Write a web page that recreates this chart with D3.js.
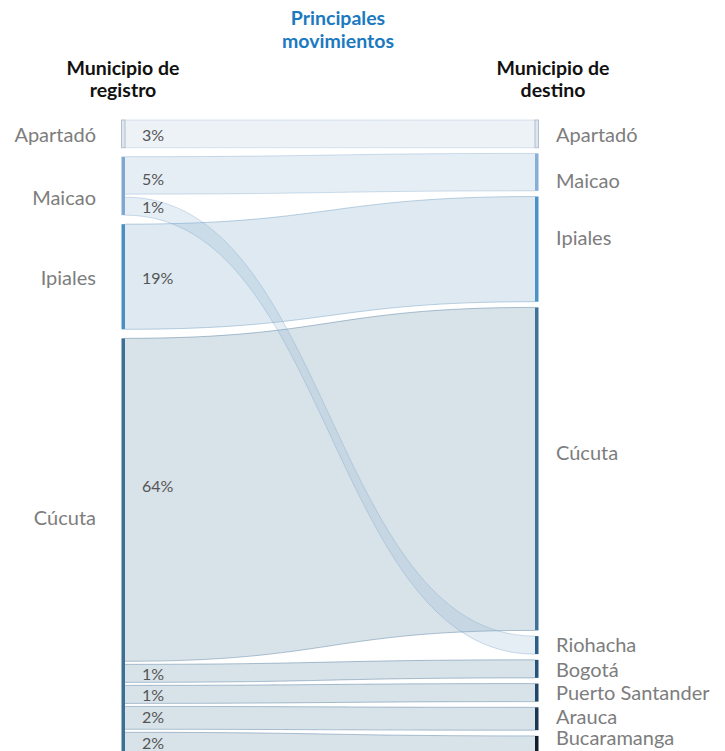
<!DOCTYPE html>
<html><head><meta charset="utf-8">
<script src="https://cdn.jsdelivr.net/npm/d3@7"></script>
<style>
body{margin:0;background:#fff;}
svg{display:block;font-family:Lato,'Open Sans',sans-serif;}
</style>
</head><body>
<svg id="chart" width="725" height="751"></svg>
<script>
// ---------------- DATA ----------------
const sources = ["Apartadó","Maicao","Ipiales","Cúcuta"];
const targets = ["Apartadó","Maicao","Ipiales","Cúcuta","Riohacha","Bogotá","Puerto Santander","Arauca","Bucaramanga"];
const linkSource = ["Apartadó","Maicao","Maicao","Ipiales","Cúcuta","Cúcuta","Cúcuta","Cúcuta","Cúcuta"];
const linkTarget = ["Apartadó","Maicao","Riohacha","Ipiales","Cúcuta","Bogotá","Puerto Santander","Arauca","Bucaramanga"];
const linkValue  = [3,5,1,19,64,1,1,2,2];
const linkLabel  = ["3%","5%","1%","19%","64%","1%","1%","2%","2%"];
const titleLines = ["Principales","movimientos"];
const leftHeader = ["Municipio de","registro"];
const rightHeader = ["Municipio de","destino"];

// ---------------- STYLE ----------------
const leftColors = {"Apartadó":"#dfe6ee","Maicao":"#7fa7d0","Ipiales":"#4a8ec2","Cúcuta":"#3e6f93"};
const rightColors = {"Apartadó":"#dfe6ee","Maicao":"#86aed6","Ipiales":"#4b93c6","Cúcuta":"#3e7399",
  "Riohacha":"#2c5f87","Bogotá":"#265379","Puerto Santander":"#1f4767","Arauca":"#1a3852","Bucaramanga":"#111d28"};
const bandColors = {"Apartadó":"#a5bed7","Maicao":"#84a9cc","Ipiales":"#5a8fb8","Cúcuta":"#3e6f93"};
const leftNudge = {"Maicao":11,"Cúcuta":-30};
const rightNudge = {"Maicao":8,"Ipiales":-12,"Cúcuta":-17,"Riohacha":-1,"Puerto Santander":-1,"Arauca":-3,"Bucaramanga":-10};
const pctNudge = [0,3,0,0,-15,0,0,-2,-2];
const dy = 3;

const svg = d3.select("#chart");
const x = d3.scalePoint().domain(["registro","destino"]).range([125,535]);
const thick = d3.scaleLinear().domain([0,64]).range([13.2,323]);
const nodeW = 3.5, top0 = 120, gapNode = 9, gapIn = 3, gapRight = 5.7;

const links = linkValue.map((v,i)=>({source:linkSource[i],target:linkTarget[i],value:v,label:linkLabel[i],i}));

// left layout
let y = top0;
const leftNodes = sources.map((s,i)=>{
  if(i>0) y += gapNode;
  const n = {name:s,y0:y};
  links.filter(l=>l.source===s).forEach((l,j)=>{ if(j>0) y+=gapIn; l.sy0=y; y+=thick(l.value); l.sy1=y; });
  n.y1 = y; return n;
});
// right layout
y = top0;
const rightNodes = targets.map((t,i)=>{
  if(i>0) y += gapRight;
  const n = {name:t,y0:y};
  links.filter(l=>l.target===t).forEach((l,j)=>{ if(j>0) y+=gapIn; l.ty0=y; y+=thick(l.value); l.ty1=y; });
  n.y1 = y; return n;
});

const xl = x("registro"), xr = x("destino"), xm = (xl+xr)/2;
function ribbon(l){
  const p = d3.path();
  p.moveTo(xl,l.sy0);
  p.bezierCurveTo(xm,l.sy0,xm,l.ty0,xr,l.ty0);
  p.lineTo(xr,l.ty1);
  p.bezierCurveTo(xm,l.ty1,xm,l.sy1,xl,l.sy1);
  p.closePath();
  return p.toString();
}
function edge(ya,yb){
  const p = d3.path(); p.moveTo(xl,ya); p.bezierCurveTo(xm,ya,xm,yb,xr,yb); return p.toString();
}

const gL = svg.append("g");
const order = links.slice().sort((a,b)=>(a.target==="Riohacha")-(b.target==="Riohacha"));
order.forEach(l=>{
  gL.append("path").attr("d",ribbon(l)).attr("fill",bandColors[l.source]).attr("fill-opacity",0.2);
  [[l.sy0,l.ty0],[l.sy1,l.ty1]].forEach(([a,b])=>{
    gL.append("path").attr("d",edge(a,b)).attr("fill","none")
      .attr("stroke",bandColors[l.source]).attr("stroke-opacity",0.4).attr("stroke-width",1);
  });
});

// nodes
svg.append("g").selectAll("rect").data(leftNodes).join("rect")
  .attr("x",xl-nodeW).attr("y",d=>d.y0).attr("width",nodeW).attr("height",d=>d.y1-d.y0)
  .attr("fill",d=>leftColors[d.name]).attr("stroke",d=>d.name==="Apartadó"?"#b3bfcc":"none").attr("stroke-width",1);
svg.append("g").selectAll("rect").data(rightNodes).join("rect")
  .attr("x",xr).attr("y",d=>d.y0).attr("width",nodeW).attr("height",d=>d.y1-d.y0)
  .attr("fill",d=>rightColors[d.name]).attr("stroke",d=>d.name==="Apartadó"?"#b3bfcc":"none").attr("stroke-width",1);

// percentage labels
svg.append("g").selectAll("text").data(links).join("text")
  .attr("x",142).attr("y",d=>(d.sy0+d.sy1)/2+pctNudge[d.i]+dy)
  .attr("dominant-baseline","middle").attr("font-size",16).attr("fill","#555")
  .text(d=>d.label);

// node labels
svg.append("g").selectAll("text").data(leftNodes).join("text")
  .attr("x",96).attr("y",d=>(d.y0+d.y1)/2+(leftNudge[d.name]||0)+dy)
  .attr("text-anchor","end").attr("dominant-baseline","middle")
  .attr("font-size",20).attr("fill","#7d7d7d").text(d=>d.name);
svg.append("g").selectAll("text").data(rightNodes).join("text")
  .attr("x",556).attr("y",d=>(d.y0+d.y1)/2+(rightNudge[d.name]||0)+dy)
  .attr("text-anchor","start").attr("dominant-baseline","middle")
  .attr("font-size",20).attr("fill","#7d7d7d").text(d=>d.name);

// titles
titleLines.forEach((t,i)=>svg.append("text").attr("x",338).attr("y",20+i*23)
  .attr("text-anchor","middle").attr("dominant-baseline","middle")
  .attr("font-size",19.5).attr("font-weight",700).attr("fill","#1b79bf").text(t));
leftHeader.forEach((t,i)=>svg.append("text").attr("x",123).attr("y",70+i*22)
  .attr("text-anchor","middle").attr("dominant-baseline","middle")
  .attr("font-size",19.5).attr("font-weight",700).attr("fill","#111").text(t));
rightHeader.forEach((t,i)=>svg.append("text").attr("x",553).attr("y",70+i*22)
  .attr("text-anchor","middle").attr("dominant-baseline","middle")
  .attr("font-size",19.5).attr("font-weight",700).attr("fill","#111").text(t));
</script>
</body></html>
